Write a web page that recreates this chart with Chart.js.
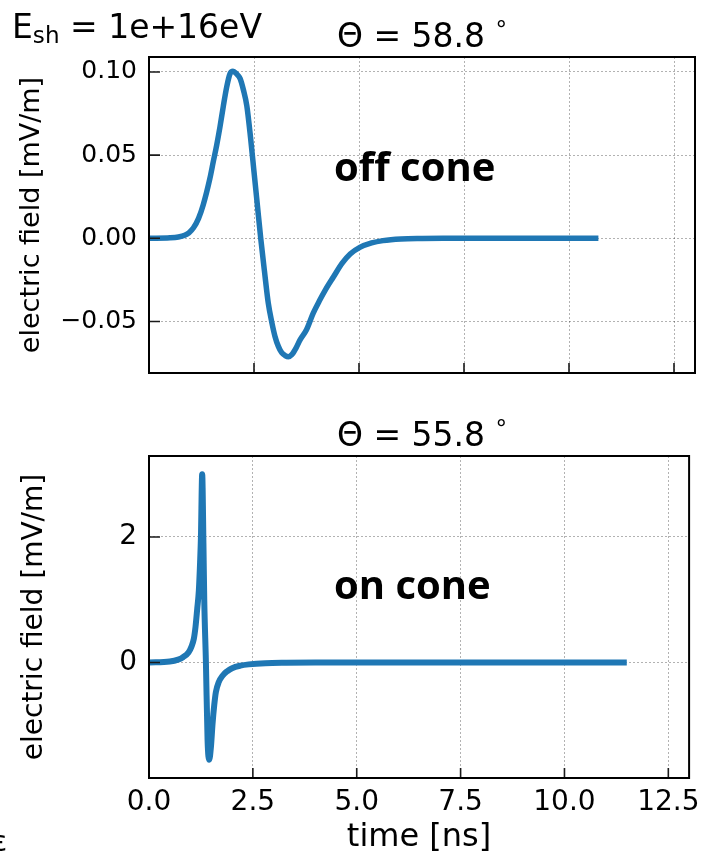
<!DOCTYPE html>
<html>
<head>
<meta charset="utf-8">
<script src="https://cdn.jsdelivr.net/npm/chart.js@4.4.0/dist/chart.umd.min.js"></script>
<style>
html,body{margin:0;padding:0;background:#fff;}
#wrap{position:relative;width:708px;height:858px;overflow:hidden;font-family:"DejaVu Sans",sans-serif;color:#000;}
.pane{position:absolute;left:0;width:708px;}
.txt{position:absolute;white-space:nowrap;line-height:1;z-index:2;}
.sub{font-size:0.7em;line-height:0;position:relative;top:0.22em;}
.sup{font-size:0.7em;line-height:0;position:relative;top:-0.45em;}
.bold{font-family:"Open Sans",sans-serif;font-weight:700;}
</style>
</head>
<body>
<div id="wrap">
  <div class="pane" style="top:0;height:400px;"><canvas id="topChart" width="708" height="400"></canvas></div>
  <div class="pane" style="top:400px;height:458px;"><canvas id="botChart" width="708" height="458"></canvas></div>

  <div class="txt" style="left:12px;top:10px;font-size:33px;">E<span class="sub">sh</span> = 1e+16eV</div>
  <div class="txt" id="topTitle" style="left:149px;width:546px;text-align:center;top:19px;font-size:33px;"></div>
  <div class="txt" id="botTitle" style="left:149px;width:546px;text-align:center;top:418px;font-size:33px;"></div>
  <div class="txt bold" id="topNote" style="left:334px;top:146px;font-size:40px;"></div>
  <div class="txt bold" id="botNote" style="left:334px;top:564px;font-size:40px;"></div>
  <div class="txt" style="left:-8px;top:828px;font-size:28px;">ε</div>
</div>

<script>
// ---- data ----
const xTicks = [0, 2.5, 5, 7.5, 10, 12.5];

const topTime  = [0, 0.5, 0.7, 0.85, 0.95, 1.06, 1.18, 1.29, 1.45, 1.53, 1.61, 1.69, 1.77, 1.85, 1.93, 2.0, 2.08, 2.17, 2.25, 2.33, 2.42, 2.5, 2.58, 2.66, 2.75, 2.84, 2.92, 3.0, 3.08, 3.16, 3.24, 3.32, 3.4, 3.5, 3.6, 3.75, 3.91, 4.07, 4.2, 4.39, 4.6, 4.79, 5.02, 5.3, 5.57, 6.0, 6.5, 7.0, 8.0, 9.0, 10.0, 10.7];
const topField = [0, 0.0003, 0.0008, 0.0018, 0.0033, 0.0063, 0.012, 0.020, 0.036, 0.046, 0.0558, 0.067, 0.0795, 0.091, 0.099, 0.1005, 0.099, 0.096, 0.089, 0.0795, 0.060, 0.040, 0.020, 0.0, -0.020, -0.039, -0.050, -0.059, -0.065, -0.0688, -0.0705, -0.0712, -0.070, -0.066, -0.0609, -0.055, -0.045, -0.037, -0.031, -0.0233, -0.015, -0.0095, -0.0055, -0.0028, -0.0014, -0.0004, -0.0001, 0, 0, 0, 0, 0];
const topYTicks = [-0.05, 0.0, 0.05, 0.10];

const botTime  = [0, 0.5, 0.7, 0.82, 0.95, 1.02, 1.08, 1.12, 1.16, 1.20, 1.23, 1.25, 1.28, 1.31, 1.33, 1.37, 1.41, 1.45, 1.49, 1.53, 1.57, 1.61, 1.68, 1.77, 1.88, 2.0, 2.2, 2.4, 2.8, 3.3, 4.0, 5.0, 7.0, 9.0, 11.5];
const botField = [0, 0.015, 0.045, 0.085, 0.16, 0.25, 0.38, 0.57, 0.85, 1.15, 1.6, 2.0, 3.0, 1.9, 1.0, 0.0, -1.24, -1.55, -1.35, -0.97, -0.68, -0.47, -0.31, -0.21, -0.14, -0.09, -0.05, -0.03, -0.01, -0.003, 0, 0, 0, 0, 0];
const botYTicks = [0, 2];

const topTitleText = "Θ = 58.8 ";
const botTitleText = "Θ = 55.8 ";
const topNoteText = "off cone";
const botNoteText = "on cone";
const yLabel = "electric field [mV/m]";
const xLabel = "time [ns]";

// ---- text ----
document.getElementById('topTitle').innerHTML = topTitleText + '<span class="sup">°</span>';
document.getElementById('botTitle').innerHTML = botTitleText + '<span class="sup">°</span>';
document.getElementById('topNote').textContent = topNoteText;
document.getElementById('botNote').textContent = botNoteText;

// ---- frame + inward ticks ----
const framePlugin = {
  id: 'frame',
  afterDatasetsDraw(chart) {
    const {ctx, chartArea: a, scales: {x, y}} = chart;
    ctx.save();
    ctx.strokeStyle = '#1a1a1a';
    ctx.lineWidth = 1.6;
    ctx.beginPath();
    x.ticks.forEach(t => {
      const px = x.getPixelForValue(t.value);
      if (px > a.left + 1 && px < a.right - 1) { ctx.moveTo(px, a.bottom); ctx.lineTo(px, a.bottom - 10); }
    });
    y.ticks.forEach(t => {
      const py = y.getPixelForValue(t.value);
      ctx.moveTo(a.left, py); ctx.lineTo(a.left + 11, py);
    });
    ctx.stroke();
    ctx.lineWidth = 2;
    ctx.strokeStyle = '#000';
    ctx.strokeRect(a.left, a.top, a.right - a.left, a.bottom - a.top);
    ctx.restore();
  }
};

const FONT = '"DejaVu Sans", sans-serif';
const fmtMinus = s => s.replace('-', '\u2212');

function makeChart(id, times, field, yMin, yMax, yTicks, cfg) {
  return new Chart(document.getElementById(id), {
    type: 'line',
    data: {
      datasets: [{
        data: times.map((t, i) => ({x: t, y: field[i]})),
        borderColor: '#1f77b4',
        borderWidth: cfg.lineWidth,
        pointRadius: 0,
        fill: false,
        cubicInterpolationMode: 'monotone',
        borderJoinStyle: 'round',
        borderCapStyle: 'butt'
      }]
    },
    options: {
      responsive: false,
      animation: false,
      events: [],
      layout: {padding: cfg.padding},
      plugins: {legend: {display: false}, tooltip: {enabled: false}, title: {display: false}},
      scales: {
        x: {
          type: 'linear', min: 0, max: 13,
          afterBuildTicks: s => { s.ticks = xTicks.map(v => ({value: v})); },
          afterFit: s => { s.height = cfg.xHeight; },
          ticks: {display: cfg.showX, autoSkip: false, maxRotation: 0, color: '#000',
                  padding: 8, font: {family: FONT, size: 28}, callback: v => v.toFixed(1)},
          grid: {color: 'rgba(0,0,0,0.3)', lineWidth: 1, drawTicks: false},
          border: {display: false, dash: [2, 2]},
          title: {display: cfg.showX, text: xLabel, color: '#000',
                  font: {family: FONT, size: 32}, padding: {top: 0, bottom: 1}}
        },
        y: {
          type: 'linear', min: yMin, max: yMax,
          afterBuildTicks: s => { s.ticks = yTicks.map(v => ({value: v})); },
          afterFit: s => { s.width = 149; },
          ticks: {color: '#000', padding: 12, font: {family: FONT, size: cfg.tickSize},
                  callback: v => fmtMinus(cfg.fmt(v))},
          grid: {color: 'rgba(0,0,0,0.3)', lineWidth: 1, drawTicks: false},
          border: {display: false, dash: [2, 2]},
          title: {display: true, text: yLabel, color: '#000',
                  font: {family: FONT, size: cfg.labelSize}, padding: {top: cfg.labelPad, bottom: 0}}
        }
      }
    },
    plugins: [framePlugin]
  });
}

makeChart('topChart', topTime, topField, -0.081, 0.109, topYTicks, {
  padding: {top: 57, right: 13, bottom: 23, left: 0},
  xHeight: 0, showX: false, tickSize: 25, labelSize: 27, labelPad: 16, lineWidth: 5.5,
  fmt: v => v.toFixed(2)
});

makeChart('botChart', botTime, botField, -1.84, 3.29, botYTicks, {
  padding: {top: 56, right: 13, bottom: 0, left: 0},
  xHeight: 80, showX: true, tickSize: 28, labelSize: 28, labelPad: 18, lineWidth: 6,
  fmt: v => String(Math.round(v))
});
</script>
</body>
</html>
